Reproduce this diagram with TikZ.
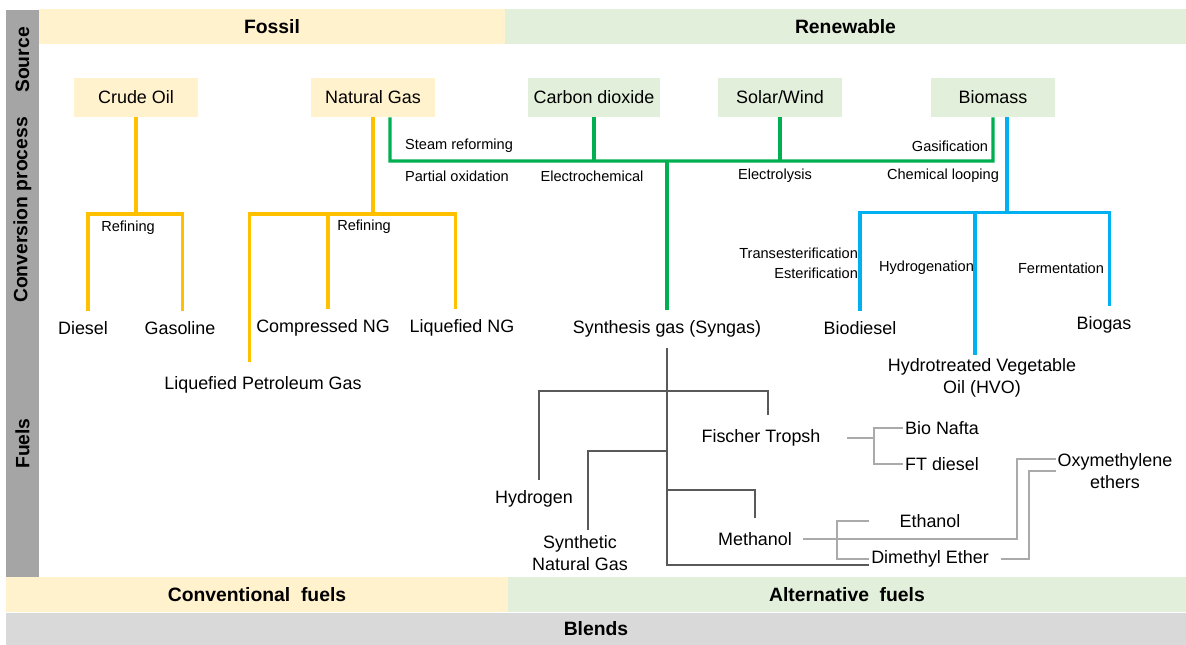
\documentclass[tikz,border=0pt]{standalone}
\usepackage{fontspec}
\setmainfont{Liberation Sans}
\usepackage{tikz}
\usetikzlibrary{positioning,calc}
\definecolor{cfossil}{RGB}{255,242,204}
\definecolor{crenew}{RGB}{226,239,218}
\definecolor{cside}{RGB}{165,165,165}
\definecolor{cblend}{RGB}{217,217,217}
\definecolor{corange}{RGB}{255,192,0}
\definecolor{cgreen}{RGB}{0,176,80}
\definecolor{cblue}{RGB}{0,176,240}
\definecolor{cdark}{RGB}{89,89,89}
\definecolor{clight}{RGB}{170,170,170}
\tikzset{band/.style={draw=none, inner sep=0pt, outer sep=0pt, font=\fontsize{11}{13}\selectfont\bfseries}}
\tikzset{sidebar/.style={band, fill=cside, rotate=90, minimum height=0.66cm}}
\tikzset{srcbox/.style={draw=none, inner sep=0pt, minimum width=2.48cm, minimum height=0.78cm, font=\fontsize{10.2}{12.3}\selectfont}}
\tikzset{fuel/.style={draw=none, inner sep=1pt, align=center, font=\fontsize{10.2}{12.3}\selectfont}}
\tikzset{proc/.style={draw=none, inner sep=1pt, align=center, font=\fontsize{8.3}{11.3}\selectfont}}
\tikzset{oline/.style={draw=corange, line width=1.8pt}}
\tikzset{gline/.style={draw=cgreen, line width=1.8pt}}
\tikzset{bline/.style={draw=cblue, line width=1.8pt}}
\tikzset{dline/.style={draw=cdark, line width=1.6pt}}
\tikzset{lline/.style={draw=clight, line width=1.6pt}}
\tikzset{tolab/.style={shorten >=#1}, tolab/.default=5pt}

\begin{document}
\begin{tikzpicture}[x=0.02cm, y=-0.02cm]
        \useasboundingbox (0,0) rectangle (1186,645);

        %%% BANDS %%%
        \node[band, fill=cfossil, minimum width=9.32cm, minimum height=0.7cm] (fossil) at (272,26.5) {Fossil};
        \node[band, fill=crenew, minimum width=13.62cm, minimum height=0.7cm] (renew) at (845.5,26.5) {Renewable};
        \node[band, fill=cfossil, minimum width=10.04cm, minimum height=0.7cm] (conv) at (257,594.5) {Conventional\ \ fuels};
        \node[band, fill=crenew, minimum width=13.56cm, minimum height=0.7cm] (alt) at (847,594.5) {Alternative\ \ fuels};
        \node[band, fill=cblend, minimum width=23.6cm, minimum height=0.64cm] (blends) at (596,629) {Blends};
        \node[sidebar, minimum width=2.02cm] (source) at (22.5,60) {Source};
        \node[sidebar, minimum width=4.02cm] (convproc) at (22.5,210) {Conversion process};
        \node[sidebar, minimum width=5.36cm] (fuels) at (22.5,443.5) {Fuels};

        %%% SOURCES %%%
        \node[srcbox, fill=cfossil] (crude) at (136,97.5) {Crude Oil};
        \node[srcbox, fill=cfossil] (natgas) at (373,97.5) {Natural Gas};
        \node[srcbox, fill=crenew, minimum width=2.65cm] (co2) at (594,97.5) {Carbon dioxide};
        \node[srcbox, fill=crenew] (solar) at (780,97.5) {Solar/Wind};
        \node[srcbox, fill=crenew] (biomass) at (993,97.5) {Biomass};

        %%% PROCESSES %%%
        \node[proc] (refine1) at (128,228) {Refining};
        \node[proc] (refine2) at (364,227) {Refining};
        \node[proc] (steam) at (459,146) {Steam reforming};
        \node[proc] (partox) at (457,176) {Partial oxidation};
        \node[proc] (electrochem) at (592,176) {Electrochemical};
        \node[proc] (electrolysis) at (775,176) {Electrolysis};
        \node[proc] (gasif) at (950,146) {Gasification};
        \node[proc] (chemloop) at (943,176) {Chemical looping};
        \node[proc, align=right, anchor=east] (transest) at (860,263) {Transesterification\\Esterification};
        \node[proc] (hydrogenation) at (926.5,268) {Hydrogenation};
        \node[proc] (ferment) at (1061,268) {Fermentation};

        %%% FUELS %%%
        \node[fuel] (diesel) at (83,328) {Diesel};
        \node[fuel] (gasoline) at (180,328) {Gasoline};
        \node[fuel] (cng) at (323,328) {Compressed NG};
        \node[fuel] (lng) at (462,328) {Liquefied NG};
        \node[fuel] (lpg) at (263,385) {Liquefied Petroleum Gas};
        \node[fuel] (syngas) at (667,329) {Synthesis gas (Syngas)};
        \node[fuel] (biodiesel) at (860,328) {Biodiesel};
        \node[fuel] (biogas) at (1104,325) {Biogas};
        \node[fuel] (hvo) at (982,378) {Hydrotreated Vegetable\\Oil (HVO)};
        \node[fuel] (hydrogen) at (534,499) {Hydrogen};
        \node[fuel] (sng) at (580,553) {Synthetic\\Natural Gas};
        \node[fuel] (ft) at (761,438) {Fischer Tropsh};
        \node[fuel] (methanol) at (755,539) {Methanol};
        \node[fuel] (bionafta) at (942,428) {Bio Nafta};
        \node[fuel] (ftdiesel) at (942,464) {FT diesel};
        \node[fuel] (ethanol) at (930,521) {Ethanol};
        \node[fuel] (dme) at (930,559) {Dimethyl Ether};
        \node[fuel] (ome) at (1115,471) {Oxymethylene\\ethers};

        %%% FOSSIL BRANCHES %%%
        \coordinate (cj) at (136,214);
        \coordinate (nj) at (373,214);
        \draw[oline] (crude.south) -- (cj);
        \draw[oline, tolab] (cj) -| ([xshift=0.1cm]diesel.north);
        \draw[oline, tolab] (cj) -| ([xshift=0.05cm]gasoline.north);
        \draw[oline] (natgas.south) -- (nj);
        \draw[oline, tolab=7pt] (nj) -| ([xshift=-0.27cm]lpg.north);
        \draw[oline, tolab] (nj) -| ([xshift=0.1cm]cng.north);
        \draw[oline, tolab] (nj) -| ([xshift=-0.13cm]lng.north);

        %%% SYNGAS ROUTE %%%
        \coordinate (gj) at (390,161);
        \draw[gline] ([xshift=0.34cm]natgas.south) -- (gj) -| (biomass.south);
        \draw[gline] (co2.south) -- (co2.south |- gj);
        \draw[gline] (solar.south) -- (solar.south |- gj);
        \draw[gline, tolab] (gj -| syngas.north) -- (syngas.north);

        %%% BIOMASS ROUTE %%%
        \draw[bline] ([xshift=0.28cm]biomass.south) -- ++(0,95) coordinate (bj);
        \draw[bline, tolab] (bj) -| (biodiesel.north);
        \draw[bline, tolab] (bj) -| ([xshift=0.11cm]biogas.north);
        \draw[bline, tolab=1pt] (bj) -| ([xshift=-0.14cm]hvo.north);

        %%% SYNGAS PRODUCTS %%%
        \coordinate (sj1) at (667,391);
        \coordinate (sj2) at (667,451);
        \coordinate (sj3) at (667,490);
        \draw[dline, shorten <=5pt] (syngas.south) |- ([yshift=-0.12cm]dme.west);
        \draw[dline, tolab] (sj1) -| ([xshift=0.1cm]hydrogen.north);
        \draw[dline, tolab=7pt] (sj1) -| ([xshift=0.14cm]ft.north);
        \draw[dline, tolab=2pt] (sj2) -| ([xshift=0.16cm]sng.north);
        \draw[dline, tolab=7pt] (sj3) -| (methanol.north);

        %%% DOWNSTREAM %%%
        \coordinate (fj) at (874,438);
        \draw[lline, shorten <=14pt] (fj -| ft.east) -- (fj);
        \draw[lline] (bionafta.west) -| (fj) |- (ftdiesel.west);
        \coordinate (mj) at (837,539);
        \draw[lline, shorten <=5pt] (mj -| methanol.east) -- (mj);
        \draw[lline, tolab=16pt] (mj) |- (ethanol.west);
        \draw[lline] (mj) |- (dme.west);
        \coordinate (oj1) at (1017,459);
        \coordinate (oj2) at (1029,471);
        \draw[lline] (mj) -| (oj1) -- (oj1 -| ome.west);
        \draw[lline, shorten <=6pt] (dme.east) -| (oj2) -- (oj2 -| ome.west);
    \end{tikzpicture}
\end{document}
